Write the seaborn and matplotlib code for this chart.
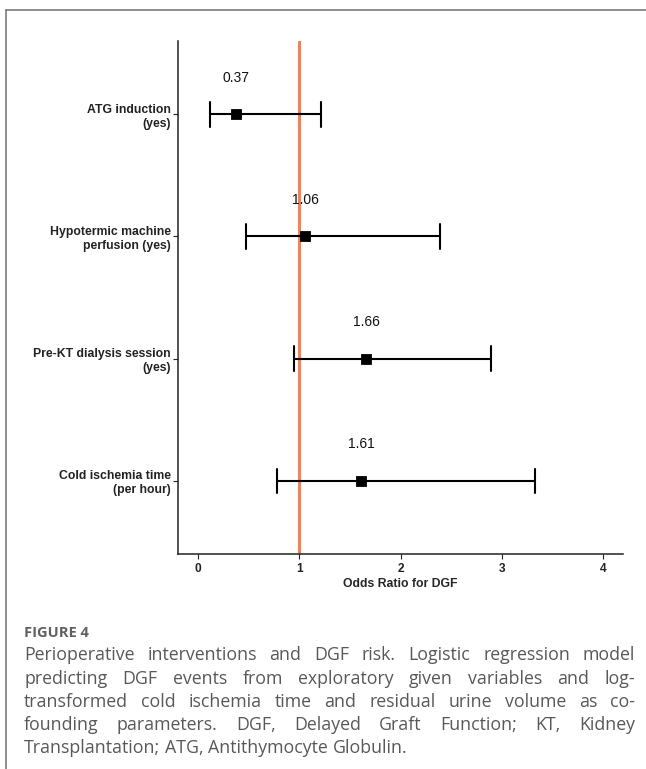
import matplotlib
matplotlib.use("Agg")
import matplotlib.pyplot as plt
from matplotlib.lines import Line2D
import pandas as pd
import seaborn as sns

# ==========================================
# DATA
# ==========================================

variables = [
    "ATG induction\n(yes)",
    "Hypotermic machine\nperfusion (yes)",
    "Pre-KT dialysis session\n(yes)",
    "Cold ischemia time\n(per hour)",
]
odds_ratio = [0.37, 1.06, 1.66, 1.61]
ci_lower = [0.12, 0.47, 0.95, 0.78]
ci_upper = [1.21, 2.39, 2.89, 3.33]
x_ticks = [0, 1, 2, 3, 4]

caption_title = "FIGURE 4"
caption_lines = [
    "Perioperative interventions and DGF risk. Logistic regression model",
    "predicting DGF events from exploratory given variables and log-",
    "transformed cold ischemia time and residual urine volume as co-",
    "founding parameters. DGF, Delayed Graft Function; KT, Kidney",
    "Transplantation; ATG, Antithymocyte Globulin.",
]

# long form: lower / estimate / upper per variable,
# median = OR and 100% percentile interval = CI
rows = []
for v, lo, est, hi in zip(variables, ci_lower, odds_ratio, ci_upper):
    for val in (lo, est, hi):
        rows.append({"variable": v, "value": val})
df = pd.DataFrame(rows)

# ==========================================
# FIGURE
# ==========================================

W, H = 646, 769
sns.set_style("ticks")
plt.rcParams["font.family"] = ["Liberation Sans", "DejaVu Sans"]

fig = plt.figure(figsize=(W / 100, H / 100), dpi=100)
ax = fig.add_axes([178 / W, 1 - 554 / H, (623 - 178) / W, (554 - 41) / H])

ax.axvline(1, color="#EA8560", linewidth=2.2, zorder=1)

sns.pointplot(
    data=df,
    x="value",
    y="variable",
    order=variables,
    orient="h",
    estimator="median",
    errorbar=("pi", 100),
    markers="s",
    linestyle="none",
    color="black",
    capsize=0.2,
    markersize=6,
    err_kws={"linewidth": 1.5},
    ax=ax,
)

for i, val in enumerate(odds_ratio):
    ax.text(val, i - 0.3, f"{val:.2f}", ha="center", va="center",
            fontsize=10, color="#111111", zorder=3)

ax.set_xlim(-0.2, 4.2)
ax.set_ylim(3.6, -0.6)
ax.set_xticks(x_ticks)
ax.set_xticklabels([str(t) for t in x_ticks], fontweight="bold", fontsize=8.6)
ax.set_xlabel("Odds Ratio for DGF", fontweight="bold", fontsize=8.8, labelpad=2)
ax.set_ylabel("")
for lbl in ax.get_yticklabels():
    lbl.set_fontweight("bold")
    lbl.set_fontsize(8.8)

sns.despine(ax=ax)
for side in ("left", "bottom"):
    ax.spines[side].set_color("#222222")
    ax.spines[side].set_linewidth(1.1)
ax.tick_params(axis="y", length=3.5, width=0.8, pad=1.5, colors="#222222")
ax.tick_params(axis="x", length=3.5, width=0.8, pad=3, colors="#222222")

# frame around the panel
x0, y0 = 6 / W, 1 - 10 / H
fig.add_artist(Line2D([x0, 1.0], [y0, y0], transform=fig.transFigure,
                      color="#7A7A7A", linewidth=1.2))
fig.add_artist(Line2D([x0, x0], [0.0, y0], transform=fig.transFigure,
                      color="#7A7A7A", linewidth=1.2))

# ==========================================
# CAPTION (justified)
# ==========================================

cap_color = "#585858"
cap_size = 12.8
left_px, right_px = 24, 635

fig.text(left_px / W, 1 - 637 / H, caption_title, fontsize=10.5,
         fontweight="bold", color="#606060", family="Open Sans",
         va="baseline")

fig.canvas.draw()
renderer = fig.canvas.get_renderer()
baselines = [660, 683.5, 707, 730, 753]
for k, (line, base) in enumerate(zip(caption_lines, baselines)):
    words = line.split()
    texts = [fig.text(0, 1 - base / H, w, fontsize=cap_size, color=cap_color,
                      family="Open Sans", va="baseline") for w in words]
    widths = [t.get_window_extent(renderer).width for t in texts]
    if k == len(caption_lines) - 1:
        gap = 0.26 * cap_size * 100 / 72
    else:
        gap = (right_px - left_px - sum(widths)) / (len(words) - 1)
    x = left_px
    for t, w in zip(texts, widths):
        t.set_x(x / W)
        x += w + gap

fig.savefig("out.png", dpi=100)
